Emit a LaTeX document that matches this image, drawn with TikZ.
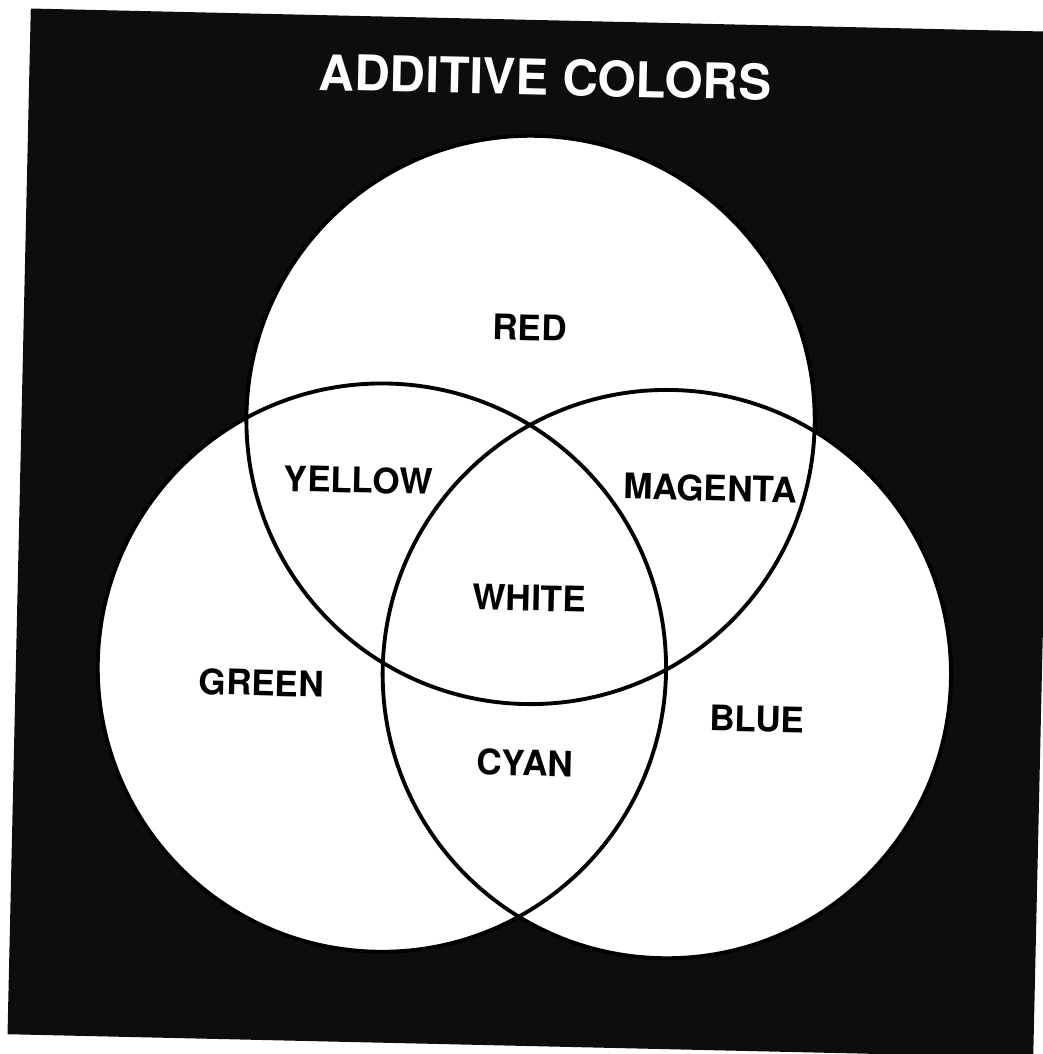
\documentclass[tikz,border=0pt]{standalone}
\usepackage{fontspec}
\setmainfont{TeX Gyre Heros}

\begin{document}
\begin{tikzpicture}[x=0.01cm,y=-0.01cm]

    \tikzset{backdrop/.style = {fill=black!95}}
    \tikzset{disc/.style = {fill=white}}
    \tikzset{rim/.style = {draw=black,line width=1.1pt}}
    \tikzset{colname/.style = {font=\bfseries\fontsize{10}{12}\selectfont,inner sep=0pt}}
    \tikzset{heading/.style = {font=\bfseries\fontsize{14}{17}\selectfont,text=white,inner sep=0pt}}
    \def\rad{2.84cm}

    \useasboundingbox (0,0) rectangle (1043,1054);
    \clip (0,0) rectangle (1043,1054);

    \begin{scope}[rotate around={-1.3:(532,533)},transform shape]

        \fill[backdrop] (19,20) rectangle (1045,1046);

        \coordinate (cred) at (528,420);
        \coordinate (cgreen) at (385,671);
        \coordinate (cblue) at (670,671);

        % white discs first, outlines on top
        \fill[disc] (cred) circle (\rad);
        \fill[disc] (cgreen) circle (\rad);
        \fill[disc] (cblue) circle (\rad);
        \draw[rim] (cred) circle (\rad);
        \draw[rim] (cgreen) circle (\rad);
        \draw[rim] (cblue) circle (\rad);

        \node[heading] (title) at (535,77) {ADDITIVE COLORS};

        \node[colname] (red) at (525,328) {RED};
        \node[colname] (yellow) at (357,484) {YELLOW};
        \node[colname] (magenta) at (709,484) {MAGENTA};
        \node[colname] (white) at (531,598) {WHITE};
        \node[colname] (green) at (265,689) {GREEN};
        \node[colname] (blue) at (761,714) {BLUE};
        \node[colname] (cyan) at (530,763) {CYAN};

    \end{scope}

\end{tikzpicture}
\end{document}
